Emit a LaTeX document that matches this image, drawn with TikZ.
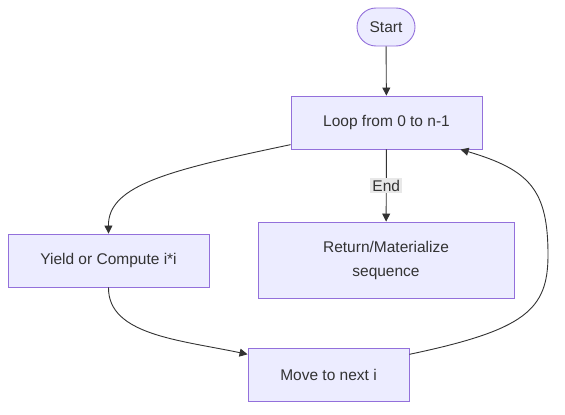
\documentclass[tikz,border=0pt]{standalone}
\usepackage{fontspec}
\setmainfont{Liberation Sans}
\usetikzlibrary{arrows.meta}
\definecolor{boxfill}{HTML}{ECECFF}
\definecolor{boxline}{HTML}{9370DB}
\definecolor{ink}{HTML}{333333}
\definecolor{tagfill}{HTML}{E8E8E8}
\begin{document}
\begin{tikzpicture}[x=1pt, y=-1pt, line width=0.9pt,
    main/.style = {draw=boxline, fill=boxfill, text=ink, inner sep=0pt, align=center,
                   font=\fontsize{15.5}{24}\selectfont},
    term/.style = {main, rounded corners=19pt},
    flow/.style = {draw=ink, -{Triangle[length=8pt,width=8pt]}},
    tag/.style = {fill=tagfill, text=ink, inner sep=2pt, font=\fontsize{15.5}{17}\selectfont}]
    \useasboundingbox (0,0) rectangle (565,415);
    \node[term, minimum width=58pt, minimum height=38pt] (start) at (386,27) {Start};
    \node[main, minimum width=191pt, minimum height=53pt] (loop) at (386.5,122.5) {Loop from 0 to n-1};
    \node[main, minimum width=201pt, minimum height=53pt] (yield) at (108.5,260.5) {Yield or Compute i*i};
    \node[main, minimum width=256pt, minimum height=76pt] (ret) at (386,260) {Return/Materialize\\sequence};
    \node[main, minimum width=161pt, minimum height=53pt] (move) at (328.5,374.5) {Move to next i};
    \draw[flow] (start) -- (loop);
    \draw[flow] (loop.193) .. controls (170,170) and (108,185) .. (yield.north);
    \draw[flow] (loop) -- node[tag] {End} (ret);
    \draw[flow] (yield.south) .. controls (108,335) and (180,340) .. (move.166);
    \draw[flow] (move.14) .. controls (525,330) and (548,310) .. (548,255)
        .. controls (548,190) and (530,170) .. (loop.-20);
\end{tikzpicture}
\end{document}
